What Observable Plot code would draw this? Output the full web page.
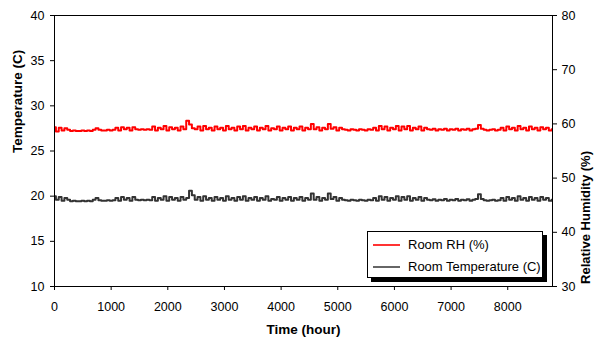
<!DOCTYPE html>
<html>
<head>
<meta charset="utf-8">
<script src="https://cdn.jsdelivr.net/npm/d3@7"></script>
<script src="https://cdn.jsdelivr.net/npm/@observablehq/plot@0.6"></script>
<style>
  html, body { margin: 0; padding: 0; background: #fff; }
  #wrap { position: relative; width: 594px; height: 343px; font-family: "Liberation Sans", Arial, sans-serif; }
  #legend { position: absolute; left: 367px; top: 231px; width: 174px; height: 45px; border: 1px solid #000; background: #fff; box-shadow: 4px 4px 0 #000; }
  .item { position: absolute; left: 4px; height: 16px; font-size: 13px; line-height: 16px; color: #000; white-space: nowrap; }
  .swatch { position: absolute; left: 1px; top: 7px; width: 27px; height: 2px; }
  .lab { position: absolute; left: 36px; top: 0; }
</style>
</head>
<body>
<div id="wrap">
  <div id="chart"></div>
  <div id="legend"></div>
</div>
<script>
// ---- data ----
const STEP_HOURS = 50; // one reading every 50 hours
const temperature = [
  20.0,19.6,19.9,19.5,19.8,19.6,19.45,19.5,19.45,19.45,
  19.5,19.45,19.5,19.45,19.6,19.8,19.55,19.5,19.5,19.55,
  19.5,19.55,19.8,19.5,19.9,19.6,19.8,19.5,19.9,19.6,
  19.55,19.6,19.55,19.6,19.55,19.9,19.5,19.8,19.6,20.0,
  19.5,19.9,19.6,19.8,19.5,19.9,19.6,19.8,20.6,20.1,
  19.6,19.9,19.5,20.0,19.6,19.8,19.5,19.9,19.6,19.8,
  19.5,20.0,19.6,19.8,19.5,19.9,19.6,20.0,19.5,19.8,
  19.6,19.9,19.5,19.8,19.6,20.0,19.5,19.7,19.6,19.9,
  19.5,19.8,19.6,19.9,19.5,19.8,19.6,19.9,19.5,19.8,
  19.6,20.3,19.6,19.9,19.5,19.8,19.6,20.3,19.7,19.9,
  19.5,19.8,19.6,19.55,19.5,19.6,19.55,19.5,19.6,19.55,
  19.5,19.6,19.55,19.8,19.5,20.0,19.6,19.9,19.5,19.8,
  19.6,20.0,19.5,19.9,19.6,20.0,19.5,19.8,19.6,19.9,
  19.5,19.8,19.6,19.55,19.65,19.5,19.6,19.55,19.7,19.5,
  19.6,19.55,19.7,19.5,19.6,19.55,19.65,19.5,19.6,19.7,
  20.2,19.7,19.55,19.5,19.55,19.6,19.5,19.55,19.8,19.5,
  19.9,19.6,19.8,19.5,20.0,19.6,19.8,19.5,19.9,19.6,
  19.8,19.5,19.9,19.6,19.8,19.5,19.6
];
const humidity = [
  59.4,58.6,59.3,58.8,59.2,58.9,58.7,58.8,58.7,58.7,
  58.8,58.7,58.8,58.7,58.9,59.2,58.9,58.8,58.8,58.9,
  58.8,58.9,59.3,58.8,59.4,59.0,59.3,58.8,59.4,59.0,
  58.9,59.0,58.9,59.0,58.9,59.5,58.8,59.3,59.0,59.6,
  58.8,59.4,59.0,59.3,58.8,59.5,59.0,60.6,59.9,59.2,
  59.0,59.5,58.8,59.6,59.0,59.3,58.8,59.5,59.0,59.3,
  58.8,59.6,59.0,59.3,58.8,59.5,59.0,59.6,58.8,59.3,
  59.0,59.5,58.8,59.3,59.0,59.6,58.8,59.2,59.0,59.5,
  58.8,59.3,59.0,59.5,58.8,59.3,59.0,59.5,58.8,59.3,
  59.0,60.0,59.0,59.4,58.8,59.3,59.0,60.0,59.1,59.4,
  58.8,59.3,59.0,58.9,58.8,59.0,58.9,58.8,59.0,58.9,
  58.8,59.0,58.9,59.3,58.8,59.6,59.0,59.5,58.8,59.3,
  59.0,59.6,58.8,59.5,59.0,59.6,58.8,59.3,59.0,59.5,
  58.8,59.3,59.0,58.9,59.1,58.8,59.0,58.9,59.1,58.8,
  59.0,58.9,59.1,58.8,59.0,58.9,59.1,58.8,59.0,59.1,
  59.8,59.1,58.9,58.8,58.9,59.0,58.8,58.9,59.3,58.8,
  59.5,59.0,59.3,58.8,59.6,59.0,59.3,58.8,59.5,59.0,
  59.3,58.8,59.4,59.0,59.3,58.8,59.0
];
const xTicks = [0,1000,2000,3000,4000,5000,6000,7000,8000];
const tempTicks = [10,15,20,25,30,35,40];
const rhTicks = [30,40,50,60,70,80];
const seriesNames = ["Room RH (%)", "Room Temperature (C)"];
const seriesColors = ["#ff0000", "#333333"];
const xDomain = [0, 8790];
const tempDomain = [10, 40];
const rhDomain = [30, 80];

// map RH onto the temperature axis (secondary axis)
const rhToT = rh => tempDomain[0] + (rh - rhDomain[0]) * (tempDomain[1] - tempDomain[0]) / (rhDomain[1] - rhDomain[0]);
const tToRh = t => Math.round(rhDomain[0] + (t - tempDomain[0]) * (rhDomain[1] - rhDomain[0]) / (tempDomain[1] - tempDomain[0]));

const tempData = temperature.map((v, i) => ({hour: i * STEP_HOURS, value: v}));
const rhData = humidity.map((v, i) => ({hour: i * STEP_HOURS, value: rhToT(v)}));

const chart = Plot.plot({
  width: 594,
  height: 343,
  marginLeft: 54,
  marginRight: 42,
  marginTop: 15,
  marginBottom: 57,
  style: {fontFamily: "'Liberation Sans', Arial, sans-serif", fontSize: "12.5px", background: "#fff", color: "#000"},
  x: {domain: xDomain},
  y: {domain: tempDomain},
  marks: [
    Plot.line(rhData, {x: "hour", y: "value", stroke: seriesColors[0], strokeWidth: 2, curve: "step", clip: true}),
    Plot.line(tempData, {x: "hour", y: "value", stroke: seriesColors[1], strokeWidth: 2, curve: "step", clip: true}),
    Plot.frame({stroke: "#000", strokeWidth: 1}),
    Plot.axisX({ticks: xTicks, tickSize: 4, tickPadding: 12, label: null, tickFormat: d => String(d)}),
    Plot.axisY({ticks: tempTicks, tickSize: 4, tickPadding: 6, label: null}),
    Plot.axisY({anchor: "right", ticks: rhTicks.map(rhToT), tickSize: 4, tickPadding: 5, tickFormat: tToRh, label: null}),
    Plot.text(["Time (hour)"], {frameAnchor: "bottom", dy: 47, text: d => d, fontWeight: "bold", fontSize: 13.5}),
    Plot.text(["Temperature (C)"], {frameAnchor: "left", dx: -37, dy: 2, rotate: -90, text: d => d, fontWeight: "bold", fontSize: 13.5}),
    Plot.text(["Relative Humidity (%)"], {frameAnchor: "right", dx: 33, rotate: -90, text: d => d, fontWeight: "bold", fontSize: 13})
  ]
});
document.getElementById("chart").appendChild(chart);

// legend
const legend = document.getElementById("legend");
seriesNames.forEach((name, i) => {
  const it = document.createElement("div");
  it.className = "item";
  it.style.top = (5 + i * 22) + "px";
  const sw = document.createElement("div");
  sw.className = "swatch";
  sw.style.background = i === 0 ? "#ff3333" : "#666666";
  const lb = document.createElement("div");
  lb.className = "lab";
  lb.textContent = name;
  it.appendChild(sw);
  it.appendChild(lb);
  legend.appendChild(it);
});
</script>
</body>
</html>
